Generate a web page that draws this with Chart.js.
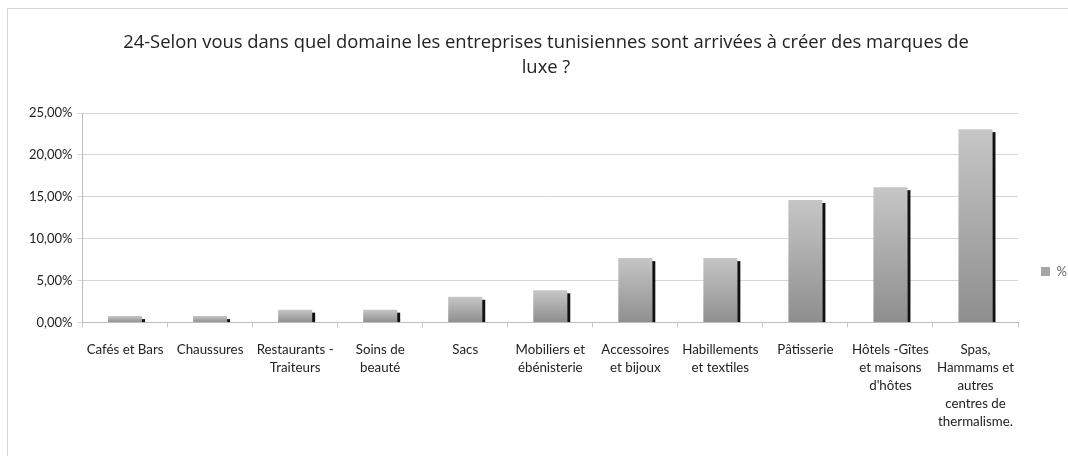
<!DOCTYPE html>
<html>
<head>
<meta charset="utf-8">
<script src="https://cdn.jsdelivr.net/npm/chart.js@4/dist/chart.umd.min.js"></script>
<style>
  html, body { margin: 0; padding: 0; background: #fff; }
  #wrap { position: relative; width: 1068px; height: 456px; overflow: hidden; }
  #frame { position: absolute; left: 7px; top: 8px; width: 1200px; height: 600px; border: 1px solid #d6d6d6; }
  #c { position: absolute; left: 0; top: 0; }
</style>
</head>
<body>
<div id="wrap">
  <div id="frame"></div>
  <canvas id="c" width="1068" height="456"></canvas>
</div>
<script>
'use strict';

const titleLines = [
  '24-Selon vous dans quel domaine les entreprises tunisiennes sont arrivées à créer des marques de',
  'luxe ?'
];

const categories = [
  'Cafés et Bars',
  'Chaussures',
  ['Restaurants -', 'Traiteurs'],
  ['Soins de', 'beauté'],
  'Sacs',
  ['Mobiliers et', 'ébénisterie'],
  ['Accessoires', 'et bijoux'],
  ['Habillements', 'et textiles'],
  'Pâtisserie',
  ['Hôtels -Gîtes', 'et maisons', "d'hôtes"],
  ['Spas,', 'Hammams et', 'autres', 'centres de', 'thermalisme.']
];

const seriesName = '%';
const percents = [0.77, 0.77, 1.54, 1.54, 3.08, 3.85, 7.69, 7.69, 14.62, 16.15, 23.08];

const yTicks = [0, 5, 10, 15, 20, 25];

const FONT = 'Lato, "Open Sans", sans-serif';
const TEXT = '#222222';

// grey face, lighter on top, per bar
function barFace(context) {
  const chart = context.chart;
  if (!chart.chartArea || context.type !== 'data') return '#a8a8a8';
  const y = chart.scales.y;
  const top = y.getPixelForValue(context.parsed.y);
  const bottom = y.getPixelForValue(0);
  if (!isFinite(top) || bottom - top < 1) return '#a8a8a8';
  const g = chart.ctx.createLinearGradient(0, top, 0, bottom);
  g.addColorStop(0, '#c6c6c6');
  g.addColorStop(1, '#8e8e8e');
  return g;
}

// dark right-hand side of each bar
const barSide = {
  id: 'barSide',
  afterDatasetsDraw(chart) {
    const ctx = chart.ctx;
    const meta = chart.getDatasetMeta(0);
    ctx.save();
    ctx.fillStyle = '#111111';
    meta.data.forEach(bar => {
      const p = bar.getProps(['x', 'y', 'base', 'width'], true);
      const h = p.base - p.y - 3;
      if (h > 0) ctx.fillRect(p.x + p.width / 2, p.y + 3, 3, h);
    });
    ctx.restore();
  }
};

new Chart(document.getElementById('c').getContext('2d'), {
  type: 'bar',
  data: {
    labels: categories,
    datasets: [{
      label: seriesName,
      data: percents,
      backgroundColor: barFace,
      borderWidth: 0,
      barPercentage: 0.4,
      categoryPercentage: 1
    }]
  },
  options: {
    responsive: false,
    animation: false,
    devicePixelRatio: 1,
    layout: { padding: { left: 24, right: 0, top: 0, bottom: 12 } },
    plugins: {
      title: {
        display: true,
        text: titleLines,
        color: TEXT,
        font: { family: '"Open Sans", Lato, sans-serif', size: 18.4, weight: 'normal', lineHeight: 1.36 },
        padding: { top: 30, bottom: 33 }
      },
      legend: {
        position: 'right',
        maxWidth: 50,
        // empty title only pushes the key down
        title: { display: true, text: '', font: { size: 1, lineHeight: 1 }, padding: { top: 98, bottom: 0 } },
        labels: {
          padding: 23,
          boxWidth: 9,
          boxHeight: 9,
          color: TEXT,
          font: { family: FONT, size: 13 },
          generateLabels: chart => [{
            text: chart.data.datasets[0].label,
            fillStyle: '#a6a6a6',
            strokeStyle: '#a6a6a6',
            lineWidth: 0,
            datasetIndex: 0
          }]
        }
      },
      tooltip: { enabled: false }
    },
    scales: {
      x: {
        offset: true,
        grid: {
          offset: true,
          drawOnChartArea: false,
          drawTicks: true,
          tickLength: 5,
          color: '#c8c8c8'
        },
        border: { color: '#bdbdbd' },
        ticks: {
          autoSkip: false,
          maxRotation: 0,
          minRotation: 0,
          padding: 13,
          color: TEXT,
          font: { family: FONT, size: 13.3, lineHeight: 1.36 }
        }
      },
      y: {
        min: 0,
        max: 25,
        afterBuildTicks: axis => { axis.ticks = yTicks.map(v => ({ value: v })); },
        grid: { color: '#d6d6d6', tickLength: 5 },
        border: { color: '#bdbdbd' },
        ticks: {
          padding: 5,
          color: TEXT,
          font: { family: FONT, size: 13 },
          callback: v => v.toFixed(2).replace('.', ',') + '%'
        }
      }
    }
  },
  plugins: [barSide]
});
</script>
</body>
</html>
